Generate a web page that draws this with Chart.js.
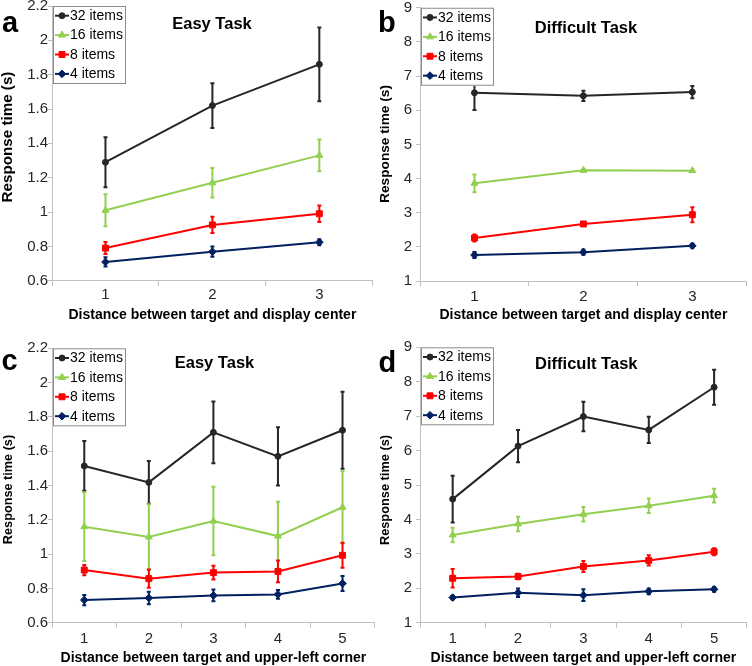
<!DOCTYPE html>
<html><head><meta charset="utf-8">
<script src="https://cdn.jsdelivr.net/npm/chart.js@4.4.1/dist/chart.umd.min.js"></script>
<style>
html,body{margin:0;padding:0;background:#fff;}
#wrap{position:relative;width:752px;height:666px;overflow:hidden;background:#fff;}
canvas{position:absolute;}
</style></head><body>
<div id="wrap">
<canvas id="pa"></canvas>
<canvas id="pb"></canvas>
<canvas id="pc"></canvas>
<canvas id="pd"></canvas>
</div>
<script>
// ---------- DATA ----------
const seriesNames = ['32 items', '16 items', '8 items', '4 items'];
const centerDistances = ['1', '2', '3'];
const cornerDistances = ['1', '2', '3', '4', '5'];
const easyTicks = [0.6, 0.8, 1, 1.2, 1.4, 1.6, 1.8, 2, 2.2];
const difficultTicks = [1, 2, 3, 4, 5, 6, 7, 8, 9];

// panel a: easy task, distance from display center
const easyCenter32 = [1.29, 1.62, 1.86];
const easyCenter16 = [1.01, 1.17, 1.33];
const easyCenter8  = [0.79, 0.925, 0.99];
const easyCenter4  = [0.709, 0.769, 0.824];
const easyCenter32Err = [0.145, 0.13, 0.215];
const easyCenter16Err = [0.093, 0.086, 0.092];
const easyCenter8Err  = [0.035, 0.047, 0.048];
const easyCenter4Err  = [0.027, 0.03, 0.018];

// panel b: difficult task, distance from display center
const diffCenter32 = [6.51, 6.42, 6.53];
const diffCenter16 = [3.86, 4.24, 4.23];
const diffCenter8  = [2.26, 2.67, 2.94];
const diffCenter4  = [1.76, 1.845, 2.03];
const diffCenter32Err = [0.5, 0.15, 0.18];
const diffCenter16Err = [0.26, 0.03, 0.03];
const diffCenter8Err  = [0.1, 0.06, 0.22];
const diffCenter4Err  = [0.09, 0.08, 0.06];

// panel c: easy task, distance from upper-left corner
const easyCorner32 = [1.514, 1.418, 1.71, 1.57, 1.722];
const easyCorner16 = [1.16, 1.10, 1.193, 1.105, 1.273];
const easyCorner8  = [0.907, 0.857, 0.892, 0.899, 0.993];
const easyCorner4  = [0.732, 0.744, 0.759, 0.765, 0.829];
const easyCorner32Err = [0.145, 0.125, 0.18, 0.17, 0.225];
const easyCorner16Err = [0.2, 0.19, 0.2, 0.2, 0.21];
const easyCorner8Err  = [0.03, 0.053, 0.04, 0.063, 0.073];
const easyCorner4Err  = [0.03, 0.037, 0.034, 0.026, 0.044];

// panel d: difficult task, distance from upper-left corner
const diffCorner32 = [4.59, 6.13, 6.99, 6.6, 7.84];
const diffCorner16 = [3.55, 3.87, 4.15, 4.40, 4.69];
const diffCorner8  = [2.29, 2.34, 2.63, 2.81, 3.06];
const diffCorner4  = [1.73, 1.87, 1.80, 1.91, 1.97];
const diffCorner32Err = [0.68, 0.47, 0.43, 0.38, 0.51];
const diffCorner16Err = [0.21, 0.21, 0.21, 0.21, 0.2];
const diffCorner8Err  = [0.27, 0.08, 0.16, 0.15, 0.1];
const diffCorner4Err  = [0.05, 0.12, 0.17, 0.08, 0.07];

// ---------- STYLE ----------
const seriesColors = ['#262626', '#92D050', '#FF0000', '#002060'];
const seriesMarkers = ['circle', 'triangle', 'rect', 'rectRot'];
const seriesRadius = [3, 4, 4.2, 3.8];
const FONT = "'Liberation Sans', Arial, sans-serif";
const AXIS_GRAY = '#BFBFBF';
const Y_TITLE = 'Response time (s)';

function buildDatasets(values, errors) {
  return values.map((v, i) => ({
    label: seriesNames[i],
    data: v,
    errors: errors[i],
    borderColor: seriesColors[i],
    backgroundColor: seriesColors[i],
    pointStyle: seriesMarkers[i],
    pointRadius: seriesRadius[i],
    pointBorderWidth: 1,
    borderWidth: 2,
    tension: 0,
    fill: false
  }));
}

function drawMarker(ctx, style, r, x, y) {
  ctx.beginPath();
  if (style === 'circle') {
    ctx.arc(x, y, r, 0, Math.PI * 2);
  } else if (style === 'triangle') {
    ctx.moveTo(x, y - r);
    ctx.lineTo(x + r * 0.866, y + r * 0.5);
    ctx.lineTo(x - r * 0.866, y + r * 0.5);
    ctx.closePath();
  } else if (style === 'rect') {
    const s = r * Math.SQRT1_2;
    ctx.rect(x - s, y - s, 2 * s, 2 * s);
  } else {
    ctx.moveTo(x - r, y); ctx.lineTo(x, y - r); ctx.lineTo(x + r, y); ctx.lineTo(x, y + r);
    ctx.closePath();
  }
  ctx.fill();
  ctx.lineWidth = 1;
  ctx.stroke();
}

const deco = {
  id: 'deco',
  beforeDatasetsDraw(chart) {
    const ctx = chart.ctx;
    const ys = chart.scales.y;
    ctx.save();
    chart.data.datasets.forEach((ds, di) => {
      const meta = chart.getDatasetMeta(di);
      meta.data.forEach((pt, i) => {
        const v = ds.data[i], e = ds.errors[i];
        const yTop = ys.getPixelForValue(v + e);
        const yBot = ys.getPixelForValue(v - e);
        ctx.strokeStyle = ds.borderColor;
        ctx.lineWidth = 2;
        ctx.beginPath();
        ctx.moveTo(pt.x, yTop); ctx.lineTo(pt.x, yBot);
        ctx.moveTo(pt.x - 2, yTop); ctx.lineTo(pt.x + 2, yTop);
        ctx.moveTo(pt.x - 2, yBot); ctx.lineTo(pt.x + 2, yBot);
        ctx.stroke();
      });
    });
    ctx.restore();
  },
  afterDraw(chart, args, o) {
    const ctx = chart.ctx;
    const ca = chart.chartArea;
    ctx.save();
    // legend box
    const bx = ca.left + 1, by = ca.top;
    ctx.fillStyle = '#fff';
    ctx.fillRect(bx, by, 73, 78);
    ctx.strokeStyle = '#8C8C8C';
    ctx.lineWidth = 1;
    ctx.strokeRect(bx + 0.5, by + 0.5, 72, 77);
    chart.data.datasets.forEach((ds, i) => {
      const y = by + 9.7 + i * 19.4;
      ctx.strokeStyle = ds.borderColor;
      ctx.lineWidth = 2;
      ctx.beginPath(); ctx.moveTo(bx + 2, y); ctx.lineTo(bx + 16, y); ctx.stroke();
      ctx.fillStyle = ds.backgroundColor;
      drawMarker(ctx, ds.pointStyle, ds.pointRadius, bx + 9, y);
      ctx.fillStyle = '#000';
      ctx.font = '14px ' + FONT;
      ctx.textAlign = 'left';
      ctx.textBaseline = 'middle';
      ctx.fillText(ds.label, bx + 17, y + 0.5);
    });
    // panel title
    ctx.fillStyle = '#000';
    ctx.font = 'bold 16.5px ' + FONT;
    ctx.textAlign = 'center';
    ctx.textBaseline = 'alphabetic';
    ctx.fillText(o.title, o.titleX, o.titleY);
    // panel letter
    ctx.font = 'bold 29px ' + FONT;
    ctx.textAlign = 'left';
    ctx.fillText(o.letter, o.letterX, o.letterY);
    // y axis title
    ctx.translate(o.yTitleX, o.yTitleY);
    ctx.rotate(-Math.PI / 2);
    ctx.font = 'bold ' + o.yTitleSize + 'px ' + FONT;
    ctx.textAlign = 'center';
    ctx.textBaseline = 'middle';
    ctx.fillText(Y_TITLE, 0, 0);
    ctx.restore();
  }
};

function makePanel(id, p) {
  const cv = document.getElementById(id);
  cv.width = p.w; cv.height = p.h;
  cv.style.left = p.left + 'px'; cv.style.top = p.top + 'px';
  cv.style.width = p.w + 'px'; cv.style.height = p.h + 'px';
  return new Chart(cv, {
    type: 'line',
    data: { labels: p.labels, datasets: buildDatasets(p.values, p.errors) },
    plugins: [deco],
    options: {
      responsive: false,
      animation: false,
      devicePixelRatio: 1,
      layout: { padding: { top: p.padTop, right: p.padRight, left: 0, bottom: 0 } },
      plugins: {
        legend: { display: false },
        tooltip: { enabled: false },
        deco: {
          title: p.title, titleX: p.titleX, titleY: p.titleY,
          letter: p.letter, letterX: p.letterX, letterY: p.letterY,
          yTitleX: p.yTitleX, yTitleY: p.yTitleY, yTitleSize: p.yTitleSize
        }
      },
      scales: {
        x: {
          type: 'category',
          offset: true,
          grid: { display: true, offset: true, drawOnChartArea: false, drawTicks: true, tickLength: 5, color: AXIS_GRAY },
          border: { display: true, color: AXIS_GRAY, width: 1 },
          ticks: { color: '#262626', font: { family: FONT, size: 15 }, padding: p.xTickPad, maxRotation: 0, autoSkip: false },
          title: { display: true, text: p.xTitle, color: '#000', font: { family: FONT, size: 14, weight: 'bold', lineHeight: p.xTitleLH }, padding: { top: 0, bottom: p.xTitlePad } },
          afterFit: s => { s.height = p.xH; }
        },
        y: {
          min: p.ticks[0],
          max: p.ticks[p.ticks.length - 1],
          afterBuildTicks: s => { s.ticks = p.ticks.map(v => ({ value: v })); },
          grid: { display: true, drawOnChartArea: false, drawTicks: true, tickLength: 4, color: AXIS_GRAY },
          border: { display: true, color: AXIS_GRAY, width: 1 },
          ticks: {
            color: '#262626', font: { family: FONT, size: 15, lineHeight: 0.5 }, padding: p.yTickPad,
            callback: v => String(Math.round(v * 10) / 10)
          },
          title: { display: false },
          afterFit: s => { s.width = p.yW; }
        }
      }
    }
  });
}

makePanel('pa', {
  left: 0, top: 0, w: 378, h: 330, padTop: 6, padRight: 0, yW: 52, xH: 49.3,
  labels: centerDistances, ticks: easyTicks,
  values: [easyCenter32, easyCenter16, easyCenter8, easyCenter4],
  errors: [easyCenter32Err, easyCenter16Err, easyCenter8Err, easyCenter4Err],
  xTitle: 'Distance between target and display center', xTickPad: 0.3, xTitlePad: 6.6, xTitleLH: 1.2, yTickPad: 0,
  title: 'Easy Task', titleX: 212, titleY: 29.3, letter: 'a', letterX: 2, letterY: 31.5,
  yTitleX: 7.5, yTitleY: 137, yTitleSize: 15.2
});
makePanel('pb', {
  left: 376, top: 0, w: 376, h: 330, padTop: 6.5, padRight: 5, yW: 44, xH: 49,
  labels: centerDistances, ticks: difficultTicks,
  values: [diffCenter32, diffCenter16, diffCenter8, diffCenter4],
  errors: [diffCenter32Err, diffCenter16Err, diffCenter8Err, diffCenter4Err],
  xTitle: 'Distance between target and display center', xTickPad: 1.7, xTitlePad: 6.6, xTitleLH: 1.2, yTickPad: 4,
  title: 'Difficult Task', titleX: 210, titleY: 33.3, letter: 'b', letterX: 2, letterY: 31.7,
  yTitleX: 9.2, yTitleY: 144, yTitleSize: 13.7
});
makePanel('pc', {
  left: 0, top: 330, w: 380, h: 336, padTop: 18.3, padRight: 0, yW: 52, xH: 43.3,
  labels: cornerDistances, ticks: easyTicks,
  values: [easyCorner32, easyCorner16, easyCorner8, easyCorner4],
  errors: [easyCorner32Err, easyCorner16Err, easyCorner8Err, easyCorner4Err],
  xTitle: 'Distance between target and upper-left corner', xTickPad: 2.6, xTitlePad: 0, xTitleLH: 1.1, yTickPad: 0,
  title: 'Easy Task', titleX: 214.5, titleY: 38.3, letter: 'c', letterX: 1.5, letterY: 40,
  yTitleX: 8, yTitleY: 159.5, yTitleSize: 12.7
});
makePanel('pd', {
  left: 376, top: 330, w: 376, h: 336, padTop: 17.3, padRight: 5, yW: 44, xH: 43.3,
  labels: cornerDistances, ticks: difficultTicks,
  values: [diffCorner32, diffCorner16, diffCorner8, diffCorner4],
  errors: [diffCorner32Err, diffCorner16Err, diffCorner8Err, diffCorner4Err],
  xTitle: 'Distance between target and upper-left corner', xTickPad: 2.6, xTitlePad: 0, xTitleLH: 1.1, yTickPad: 4,
  title: 'Difficult Task', titleX: 210.3, titleY: 39.3, letter: 'd', letterX: 2.5, letterY: 41.7,
  yTitleX: 9.5, yTitleY: 160, yTitleSize: 12.8
});
</script>
</body></html>
